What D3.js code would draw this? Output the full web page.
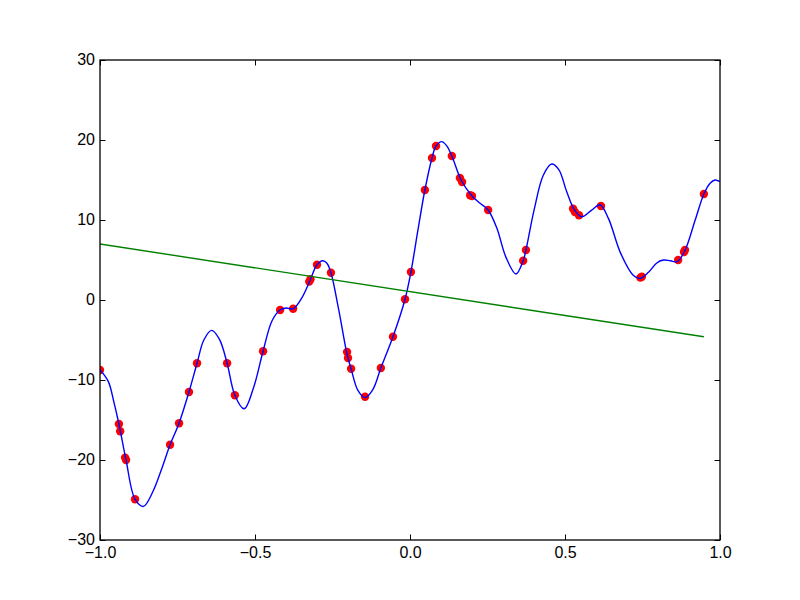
<!DOCTYPE html>
<html>
<head>
<meta charset="utf-8">
<script src="https://cdn.jsdelivr.net/npm/d3@7"></script>
<style>
html,body{margin:0;padding:0;background:#fff;}
svg{display:block;}
text{font-family:"Liberation Sans",Arial,sans-serif;}
</style>
</head>
<body>
<svg id="chart" width="800" height="600"></svg>
<script>
// Sample points (x) and noisy measurements (y)
const pointX = [-1.0,-0.939,-0.935,-0.919,-0.916,-0.887,-0.774,-0.745,-0.713,-0.687,-0.590,-0.565,-0.474,-0.419,-0.377,-0.325,-0.321,-0.300,-0.255,-0.203,-0.200,-0.190,-0.145,-0.094,-0.055,-0.016,0.003,0.048,0.071,0.084,0.135,0.161,0.168,0.194,0.200,0.252,0.365,0.374,0.526,0.532,0.545,0.616,0.743,0.748,0.865,0.884,0.887,0.948];
const pointY = [-8.75,-15.5,-16.4,-19.7,-20.0,-24.9,-18.1,-15.4,-11.5,-7.9,-7.9,-11.9,-6.4,-1.25,-1.1,2.3,2.6,4.4,3.4,-6.5,-7.25,-8.6,-12.1,-8.5,-4.6,0.1,3.5,13.75,17.75,19.25,18.0,15.25,14.75,13.1,13.0,11.25,4.9,6.25,11.4,11.0,10.6,11.75,2.8,2.9,5.0,6.0,6.25,13.25];

// Smooth fitted curve
const curveX = [-1.0,-0.973,-0.955,-0.939,-0.916,-0.887,-0.86,-0.83,-0.80,-0.774,-0.745,-0.713,-0.687,-0.665,-0.64,-0.615,-0.590,-0.565,-0.535,-0.505,-0.474,-0.445,-0.419,-0.40,-0.377,-0.35,-0.323,-0.300,-0.282,-0.268,-0.255,-0.23,-0.203,-0.190,-0.168,-0.145,-0.12,-0.094,-0.055,-0.016,0.003,0.025,0.048,0.071,0.084,0.102,0.118,0.135,0.165,0.20,0.226,0.252,0.28,0.31,0.342,0.365,0.374,0.40,0.43,0.457,0.48,0.505,0.53,0.554,0.585,0.613,0.64,0.68,0.72,0.742,0.77,0.795,0.817,0.84,0.862,0.887,0.92,0.948,0.968,0.984,1.0];
const curveY = [-8.7,-10.2,-12.8,-15.5,-20.0,-24.9,-25.8,-24.0,-21.0,-18.1,-15.4,-11.5,-7.9,-5.0,-3.8,-4.9,-7.9,-11.9,-13.6,-11.0,-6.4,-2.6,-1.25,-1.0,-1.1,0.2,2.4,4.4,4.9,4.6,3.4,-1.2,-6.8,-8.6,-11.3,-12.2,-11.2,-8.5,-4.6,0.1,3.5,8.6,13.75,17.75,19.25,19.8,19.3,18.0,15.0,13.0,12.1,11.25,9.0,5.3,3.25,4.9,6.25,11.2,15.6,17.0,16.3,13.6,11.3,10.4,11.2,11.9,10.2,5.8,3.1,2.7,3.5,4.6,5.0,4.9,4.8,6.2,10.0,13.25,14.6,15.0,14.8];

// Linear fit line endpoints
const fitX = [-1.0, 0.948];
const fitY = [7.0, -4.6];

const xTicks = [-1.0,-0.5,0.0,0.5,1.0];
const yTicks = [-30,-20,-10,0,10,20,30];

const svg = d3.select("#chart");
const mL = 100, mR = 720, mT = 60, mB = 540;
const x = d3.scaleLinear().domain([-1,1]).range([mL,mR]);
const y = d3.scaleLinear().domain([-30,30]).range([mB,mT]);

svg.append("defs").append("clipPath").attr("id","clip")
  .append("rect").attr("x",mL).attr("y",mT).attr("width",mR-mL).attr("height",mB-mT);

const plot = svg.append("g").attr("clip-path","url(#clip)");

// points
plot.selectAll("circle").data(pointX.map((d,i)=>[d,pointY[i]])).enter().append("circle")
  .attr("cx",d=>x(d[0])).attr("cy",d=>y(d[1])).attr("r",4.2).attr("fill","#ff0000");

// fitted curve
plot.append("path")
  .datum(curveX.map((d,i)=>[d,curveY[i]]))
  .attr("d", d3.line().x(d=>x(d[0])).y(d=>y(d[1])).curve(d3.curveCatmullRom.alpha(0.5)))
  .attr("fill","none").attr("stroke","#0000ff").attr("stroke-width",1.4);

// linear fit
plot.append("path")
  .datum(fitX.map((d,i)=>[d,fitY[i]]))
  .attr("d", d3.line().x(d=>x(d[0])).y(d=>y(d[1])))
  .attr("fill","none").attr("stroke","#008000").attr("stroke-width",1.4);

// axes (ticks inward)
const fmtX = d=> d3.format(".1f")(d).replace("-","\u2212");
const fmtY = d=> String(d).replace("-","\u2212");
const tick = 5.5;
svg.append("g").attr("transform",`translate(0,${mB})`)
  .call(d3.axisBottom(x).tickValues(xTicks).tickFormat(fmtX).tickSizeInner(-tick).tickSizeOuter(0).tickPadding(7))
  .call(g=>{g.select(".domain").remove(); g.selectAll("text").attr("font-size",16).attr("fill","#000").attr("font-family","Liberation Sans, Arial, sans-serif");});
svg.append("g").attr("transform",`translate(0,${mT})`)
  .call(d3.axisTop(x).tickValues(xTicks).tickFormat("").tickSizeInner(-tick).tickSizeOuter(0))
  .call(g=>g.select(".domain").remove());
svg.append("g").attr("transform",`translate(${mL},0)`)
  .call(d3.axisLeft(y).tickValues(yTicks).tickFormat(fmtY).tickSizeInner(-tick).tickSizeOuter(0).tickPadding(5))
  .call(g=>{g.select(".domain").remove(); g.selectAll("text").attr("font-size",16).attr("fill","#000").attr("font-family","Liberation Sans, Arial, sans-serif").attr("dy","0.25em");});
svg.append("g").attr("transform",`translate(${mR},0)`)
  .call(d3.axisRight(y).tickValues(yTicks).tickFormat("").tickSizeInner(-tick).tickSizeOuter(0))
  .call(g=>g.select(".domain").remove());
svg.selectAll(".tick line").attr("stroke","#000");

svg.append("rect").attr("x",mL).attr("y",mT).attr("width",mR-mL).attr("height",mB-mT)
  .attr("fill","none").attr("stroke","#000").attr("stroke-width",1.3);
</script>
</body>
</html>
